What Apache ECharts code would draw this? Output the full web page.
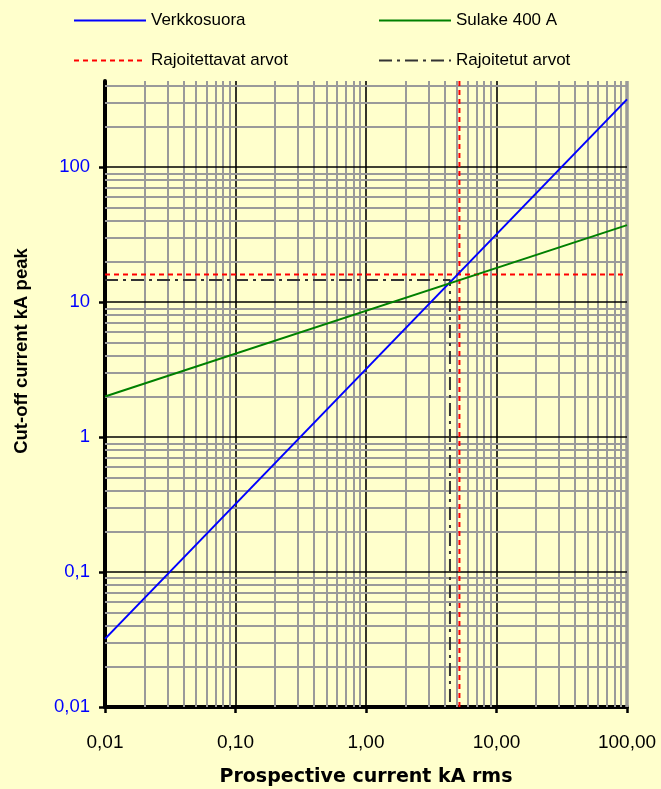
<!DOCTYPE html>
<html><head><meta charset="utf-8">
<script src="https://cdn.jsdelivr.net/npm/echarts@6/dist/echarts.min.js"></script>
<style>html,body{margin:0;padding:0;background:#FFFFCC}#c{width:661px;height:789px}</style>
</head><body><div id="c"></div>
<script>
// ---- data ----
const xRange = [0.01, 100];
const yRange = [0.01, 435];
const verkkosuoraX = [0.01, 100];
const verkkosuoraY = [0.032, 318];
const sulakeX = [0.01, 100];
const sulakeY = [2.0, 37.2];
const rajoitettavatArvot = [5.2, 16.0];   // [x, y]
const rajoitetutArvot = [4.4, 14.6];      // [x, y]
const xTickValues = [0.01, 0.1, 1, 10, 100];
const xTickLabels = ['0,01', '0,10', '1,00', '10,00', '100,00'];
const yTickValues = [0.01, 0.1, 1, 10, 100];
const yTickLabels = ['0,01', '0,1', '1', '10', '100'];
const minorMultipliers = [2, 3, 4, 5, 6, 7, 8, 9];
const seriesNames = ['Verkkosuora', 'Sulake 400 A', 'Rajoitettavat arvot', 'Rajoitetut arvot'];

// ---- helpers ----
function pair(xs, ys) { return xs.map((x, i) => [x, ys[i]]); }
function labelFor(values, labels) {
  return function (v) {
    for (let i = 0; i < values.length; i++) {
      if (Math.abs(Math.log10(v) - Math.log10(values[i])) < 1e-6) return labels[i];
    }
    return '';
  };
}
const GRAY = '#9a9a9a';
const gridLines = [];
// vertical
xTickValues.slice(0, -1).forEach(function (d, i) {
  if (i > 0) gridLines.push({ xAxis: d, lineStyle: { color: '#000', width: 1.6, type: 'solid' } });
  minorMultipliers.forEach(function (m) {
    gridLines.push({ xAxis: d * m, lineStyle: { color: GRAY, width: 2, type: 'solid' } });
  });
});
gridLines.push({ xAxis: xRange[1], lineStyle: { color: GRAY, width: 3.5, type: 'solid' } });
// horizontal
yTickValues.forEach(function (d, i) {
  if (i > 0) gridLines.push({ yAxis: d, lineStyle: { color: '#000', width: 1.6, type: 'solid' } });
  minorMultipliers.forEach(function (m) {
    if (d * m < yRange[1]) gridLines.push({ yAxis: d * m, lineStyle: { color: GRAY, width: 2, type: 'solid' } });
  });
});

const FONT = 'Liberation Sans, Arial, sans-serif';
const chart = echarts.init(document.getElementById('c'), null, { renderer: 'canvas' });

function legendAt(name, left, top) {
  return {
    data: [name], left: left, top: top, padding: 0, itemWidth: 72, itemHeight: 14, itemGap: 0,
    selectedMode: false,
    itemStyle: { opacity: 0 },
    textStyle: { fontFamily: FONT, fontSize: 17, color: '#000', padding: [0, 0, 0, 0] }
  };
}

chart.setOption({
  animation: false,
  backgroundColor: '#FFFFCC',
  legend: [
    legendAt(seriesNames[0], 73, 12),
    legendAt(seriesNames[1], 378, 12),
    legendAt(seriesNames[2], 73, 52),
    legendAt(seriesNames[3], 378, 52)
  ],
  grid: { left: 105, right: 34, top: 81, bottom: 82, containLabel: false, outerBoundsMode: 'none' },
  graphic: [{
    type: 'text', x: 22, y: 351, rotation: Math.PI / 2,
    style: { text: 'Cut-off current kA peak', font: 'bold 18.5px ' + FONT, fill: '#000', textAlign: 'center', textVerticalAlign: 'middle' }
  }],
  xAxis: {
    type: 'log', logBase: 10, min: xRange[0], max: xRange[1],
    name: 'Prospective current kA rms', nameLocation: 'middle', nameGap: 61,
    nameTextStyle: { fontFamily: 'DejaVu Sans, sans-serif', fontSize: 19, fontWeight: 'bold', color: '#000' },
    axisLine: { show: true, onZero: false, lineStyle: { color: '#000', width: 4 } },
    axisTick: { show: true, inside: false, length: 6, customValues: xTickValues, lineStyle: { color: '#000', width: 2.5 } },
    axisLabel: { customValues: xTickValues, formatter: labelFor(xTickValues, xTickLabels), margin: 26, fontFamily: FONT, fontSize: 19, color: '#000' },
    splitLine: { show: false }, minorTick: { show: false }, minorSplitLine: { show: false }
  },
  yAxis: {
    type: 'log', logBase: 10, min: yRange[0], max: yRange[1],
    axisLine: { show: true, onZero: false, lineStyle: { color: '#000', width: 4 } },
    axisTick: { show: true, inside: false, length: 6, customValues: yTickValues, lineStyle: { color: '#000', width: 2.5 } },
    axisLabel: { customValues: yTickValues, formatter: labelFor(yTickValues, yTickLabels), margin: 15, fontFamily: FONT, fontSize: 18.5, color: '#0000FF' },
    splitLine: { show: false }, minorTick: { show: false }, minorSplitLine: { show: false }
  },
  series: [
    {
      name: 'grid', type: 'line', data: [], z: 1, silent: true,
      markLine: { silent: true, symbol: ['none', 'none'], label: { show: false }, animation: false, z: 1, data: gridLines }
    },
    {
      name: seriesNames[2], type: 'line', z: 3, symbol: 'none', showSymbol: false,
      data: [[xRange[0], rajoitettavatArvot[1]], [xRange[1], rajoitettavatArvot[1]], null,
             [rajoitettavatArvot[0], yRange[0]], [rajoitettavatArvot[0], yRange[1]]],
      connectNulls: false,
      lineStyle: { color: '#FF0000', width: 2, type: [5, 4] }, itemStyle: { color: '#FF0000' }
    },
    {
      name: seriesNames[3], type: 'line', z: 3, symbol: 'none', showSymbol: false,
      data: [[xRange[0], rajoitetutArvot[1]], [rajoitetutArvot[0], rajoitetutArvot[1]], [rajoitetutArvot[0], yRange[0]]],
      lineStyle: { color: '#333333', width: 2, type: [13, 5, 3, 5] }, itemStyle: { color: '#333333' }
    },
    {
      name: seriesNames[0], type: 'line', z: 4, symbol: 'none', showSymbol: false,
      data: pair(verkkosuoraX, verkkosuoraY),
      lineStyle: { color: '#0000FF', width: 2 }, itemStyle: { color: '#0000FF' }
    },
    {
      name: seriesNames[1], type: 'line', z: 4, symbol: 'none', showSymbol: false,
      data: pair(sulakeX, sulakeY),
      lineStyle: { color: '#008000', width: 2 }, itemStyle: { color: '#008000' }
    }
  ]
});
</script></body></html>
